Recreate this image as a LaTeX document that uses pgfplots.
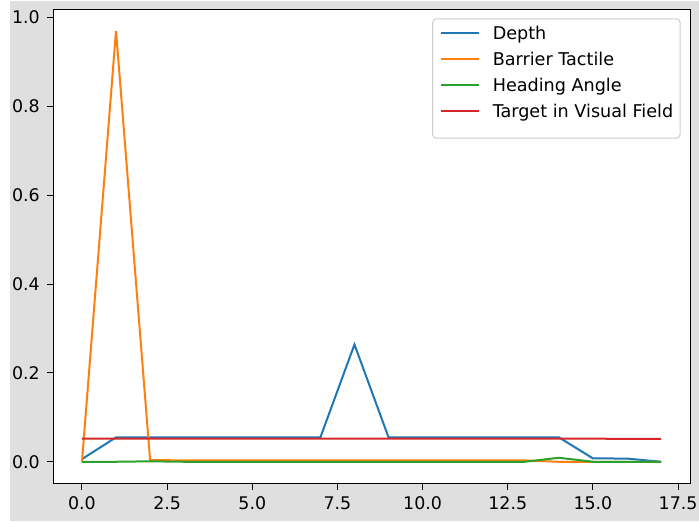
\documentclass[border=0pt]{standalone}
\usepackage{fontspec}
\setmainfont{DejaVu Sans}
\usepackage{pgfplots}
\pgfplotsset{compat=1.18}
\definecolor{mblue}{HTML}{1F77B4}
\definecolor{morange}{HTML}{FF7F0E}
\definecolor{mgreen}{HTML}{2CA02C}
\definecolor{mred}{HTML}{D62728}
\definecolor{bg}{HTML}{DFDFDF}
\begin{document}
\begin{tikzpicture}
\fill[white] (0pt,0pt) rectangle (349.5pt,260.5pt);
\fill[bg] (5pt,0pt) rectangle (349.5pt,260pt);
\path[use as bounding box] (0pt,0pt) rectangle (349.5pt,260.5pt);
\begin{axis}[
  at={(26.5pt,18.85pt)}, anchor=south west,
  scale only axis, width=318.5pt, height=237pt,
  xmin=-0.85, xmax=17.85, ymin=-0.0485, ymax=1.0185,
  xtick={0,2.5,5,7.5,10,12.5,15,17.5},
  ytick={0,0.2,0.4,0.6,0.8,1.0},
  xticklabel style={/pgf/number format/.cd,fixed,fixed zerofill,precision=1},
  yticklabel style={/pgf/number format/.cd,fixed,fixed zerofill,precision=1},
  /pgf/number format/assume math mode=true,
  tick label style={font=\fontsize{8.7}{10}\selectfont, text=black},
  tick align=outside, tick pos=left,
  major tick length=3.1pt,
  every tick/.style={black, line width=0.5pt},
  axis line style={black, line width=0.5pt},
  axis background/.style={fill=white},
  legend cell align=left,
  legend style={at={(rel axis cs:1,1)}, anchor=north east, xshift=-4.65pt, yshift=-4.5pt,
    draw=black!20, fill=white, fill opacity=0.8, text opacity=1, rounded corners=2pt, line width=0.5pt,
    font=\fontsize{8.8}{10}\selectfont, inner xsep=3.5pt, inner ysep=3.85pt, row sep=0pt,
    nodes={inner sep=0pt, text height=6.5pt, text depth=6.5pt},
    /tikz/every odd column/.append style={column sep=6.6pt}},
  legend image code/.code={\draw[#1, line width=1pt] (0pt,3.2pt) -- (19pt,3.2pt);},
  every axis plot/.append style={line width=1pt, mark=none},
]
\addplot[mblue] coordinates {(0,0.006) (1,0.055) (2,0.055) (3,0.055) (4,0.055) (5,0.055) (6,0.055) (7,0.055) (8,0.264) (9,0.055) (10,0.055) (11,0.055) (12,0.055) (13,0.055) (14,0.055) (15,0.0076) (16,0.0072) (17,0.0)};
\addlegendentry{Depth}
\addplot[morange] coordinates {(0,0.0) (1,0.97) (2,0.004) (3,0.003) (4,0.003) (5,0.003) (6,0.003) (7,0.003) (8,0.003) (9,0.003) (10,0.003) (11,0.003) (12,0.003) (13,0.003) (14,0.0) (15,0.0) (16,0.0) (17,0.0)};
\addlegendentry{Barrier Tactile}
\addplot[mgreen] coordinates {(0,0.0) (1,0.0) (2,0.001) (3,0.0) (4,0.0) (5,0.0) (6,0.0) (7,0.0) (8,0.0) (9,0.0) (10,0.0) (11,0.0) (12,0.0) (13,0.0) (14,0.009) (15,0.0) (16,0.0) (17,0.0)};
\addlegendentry{Heading Angle}
\addplot[mred] coordinates {(0,0.052) (1,0.052) (2,0.052) (3,0.052) (4,0.052) (5,0.052) (6,0.052) (7,0.052) (8,0.052) (9,0.052) (10,0.052) (11,0.052) (12,0.052) (13,0.052) (14,0.052) (15,0.052) (16,0.0515) (17,0.0515)};
\addlegendentry{Target in Visual Field}
\end{axis}
\end{tikzpicture}
\end{document}
